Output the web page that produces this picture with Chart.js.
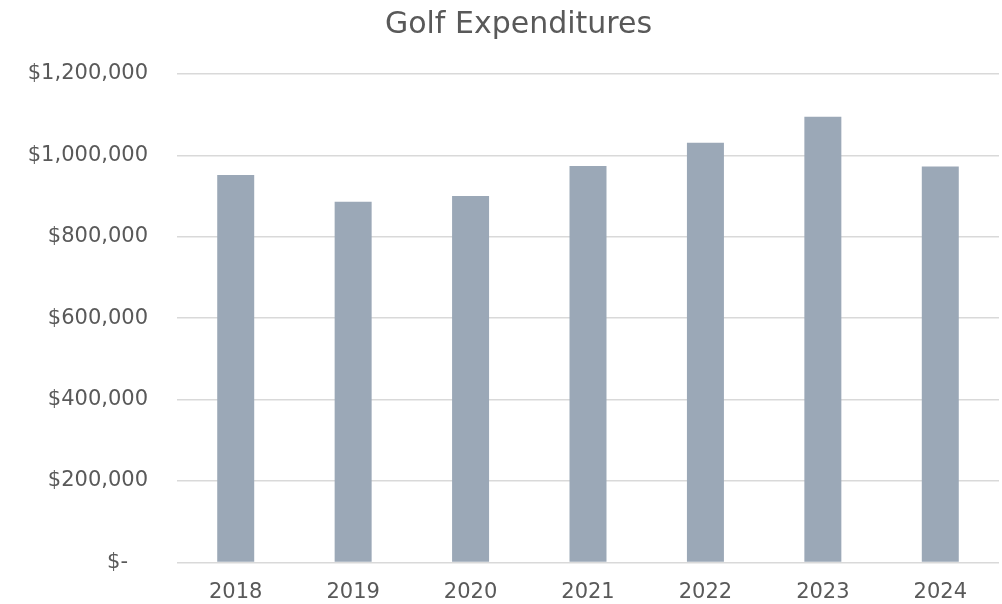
<!DOCTYPE html>
<html>
<head>
<meta charset="utf-8">
<title>Golf Expenditures</title>
<script src="https://cdn.jsdelivr.net/npm/chart.js@4.4.0/dist/chart.umd.min.js"></script>
<style>
  html, body { margin: 0; padding: 0; background: #fff; }
  #wrap { width: 1002px; height: 604px; position: relative; }
</style>
</head>
<body>
<div id="wrap"><canvas id="golfChart"></canvas></div>
<script>
// yearly spend
const years = ['2018', '2019', '2020', '2021', '2022', '2023', '2024'];
const spend = [952000, 886000, 900000, 974000, 1031000, 1095000, 973000];
const yTicks = [0, 200000, 400000, 600000, 800000, 1000000, 1200000];

const textColor = '#595959';
const font = 'DejaVu Sans';

function money(v) {
  if (v === 0) return '$-   ';
  return '$' + v.toLocaleString('en-US');
}

// nudge the title so it sits a bit right of the canvas centre
const titleShift = {
  id: 'titleShift',
  afterLayout(chart) {
    if (chart.titleBlock) chart.titleBlock.left = 38;
  }
};

const ctx = document.getElementById('golfChart').getContext('2d');

new Chart(ctx, {
  type: 'bar',
  data: {
    labels: years,
    datasets: [{
      label: 'Golf Expenditures',
      data: spend,
      backgroundColor: '#9ba8b7',
      categoryPercentage: 1,
      barPercentage: 0.315
    }]
  },
  plugins: [titleShift],
  options: {
    responsive: true,
    maintainAspectRatio: false,
    animation: false,
    layout: {
      padding: { left: 0, right: 3, top: 0, bottom: 0 }
    },
    plugins: {
      legend: { display: false },
      tooltip: { enabled: false },
      title: {
        display: true,
        text: 'Golf Expenditures',
        color: textColor,
        font: { family: font, size: 30, weight: 'normal' },
        padding: { top: 7, bottom: 31 }
      }
    },
    scales: {
      y: {
        min: 0,
        max: 1200000,
        afterBuildTicks: (axis) => {
          axis.ticks = yTicks.map(v => ({ value: v }));
        },
        afterFit: (axis) => { axis.width = 177; },
        border: { display: false },
        grid: {
          color: '#d9d9d9',
          lineWidth: 1.5,
          drawTicks: false
        },
        ticks: {
          color: textColor,
          font: { family: font, size: 21 },
          padding: 29,
          callback: (v) => money(v)
        }
      },
      x: {
        afterFit: (axis) => { axis.height = 37; },
        border: { display: false },
        grid: { display: false, drawTicks: false },
        ticks: {
          color: textColor,
          font: { family: font, size: 21 },
          padding: 18,
          maxRotation: 0
        }
      }
    }
  }
});
</script>
</body>
</html>
